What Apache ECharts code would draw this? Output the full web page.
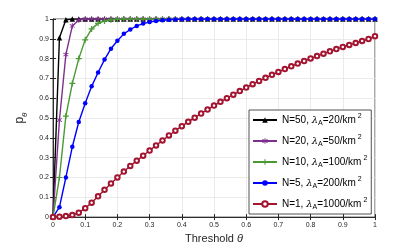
<!DOCTYPE html>
<html><head><meta charset="utf-8">
<script src="https://cdn.jsdelivr.net/npm/echarts@6/dist/echarts.min.js"></script>
<style>html,body{margin:0;padding:0;background:#fff}#c{width:415px;height:249px}</style>
</head><body><div id="c"></div>
<script>
const thresholds = [];
for (let i = 0; i <= 50; i++) thresholds.push(+(i * 0.02).toFixed(2));
const xTicks = [0,0.1,0.2,0.3,0.4,0.5,0.6,0.7,0.8,0.9,1];
const yTicks = [0,0.1,0.2,0.3,0.4,0.5,0.6,0.7,0.8,0.9,1];
const seriesNames = ['N=50', 'N=20', 'N=10', 'N=5', 'N=1'];
const densities = ['20', '50', '100', '200', '1000'];
const n50 = [0,0.905,0.996,1,1,1,1,1,1,1,1,1,1,1,1,1,1,1,1,1,1,1,1,1,1,1,1,1,1,1,1,1,1,1,1,1,1,1,1,1,1,1,1,1,1,1,1,1,1,1,1];
const n20 = [0,0.49,0.82,0.965,0.995,1,1,1,1,1,1,1,1,1,1,1,1,1,1,1,1,1,1,1,1,1,1,1,1,1,1,1,1,1,1,1,1,1,1,1,1,1,1,1,1,1,1,1,1,1,1];
const n10 = [0,0.2,0.51,0.675,0.8,0.895,0.95,0.978,0.99,0.996,0.999,1,1,1,1,1,1,1,1,1,1,1,1,1,1,1,1,1,1,1,1,1,1,1,1,1,1,1,1,1,1,1,1,1,1,1,1,1,1,1,1];
const n5 = [0,0.05,0.2,0.355,0.48,0.575,0.66,0.73,0.795,0.85,0.89,0.925,0.947,0.965,0.977,0.985,0.99,0.994,0.996,0.998,0.999,1,1,1,1,1,1,1,1,1,1,1,1,1,1,1,1,1,1,1,1,1,1,1,1,1,1,1,1,1,1];
const n1 = [0,0.002,0.005,0.01,0.022,0.045,0.073,0.105,0.138,0.17,0.2,0.23,0.258,0.285,0.31,0.336,0.362,0.387,0.412,0.436,0.459,0.481,0.502,0.523,0.543,0.563,0.582,0.6,0.618,0.636,0.654,0.671,0.687,0.703,0.718,0.733,0.747,0.761,0.775,0.788,0.801,0.813,0.825,0.837,0.848,0.859,0.869,0.879,0.889,0.899,0.913];

const colors = ['#000000', '#7e2f8e', '#4a9a32', '#0000ff', '#a2142f'];
const plus = 'path://M4,0L6,0L6,4L10,4L10,6L6,6L6,10L4,10L4,6L0,6L0,4L4,4Z';
const star = 'path://M4.3,0L5.7,0L5.7,3.3L8.6,1.6L9.3,2.8L6.4,4.5L6.4,5.5L9.3,7.2L8.6,8.4L5.7,6.7L5.7,10L4.3,10L4.3,6.7L1.4,8.4L0.7,7.2L3.6,5.5L3.6,4.5L0.7,2.8L1.4,1.6L4.3,3.3Z';
const symbols = ['triangle', star, plus, 'circle', 'emptyCircle'];
const symSizes = [5.5, 5.5, 6, 4.5, 4.5];
const allData = [n50, n20, n10, n5, n1];

const chart = echarts.init(document.getElementById('c'));
const font = 'Liberation Sans, Arial, sans-serif';
const series = allData.map((arr, k) => ({
  name: seriesNames[k],
  type: 'line',
  data: thresholds.map((t, i) => [t, arr[i]]),
  symbol: symbols[k],
  symbolSize: symSizes[k],
  showAllSymbol: true,
  itemStyle: { color: colors[k], borderColor: colors[k], borderWidth: k === 4 ? 1.5 : 0 },
  lineStyle: { color: colors[k], width: 1.4 },
  z: 2 + k,
  animation: false
}));

chart.setOption({
  animation: false,
  grid: { left: 53, right: 40, top: 19, bottom: 29, show: true, borderColor: '#262626', borderWidth: 0.8 },
  xAxis: [{
    type: 'value', min: 0, max: 1, interval: 0.1,
    name: 'Threshold {t|θ}', nameLocation: 'middle', nameGap: 15,
    nameTextStyle: { fontFamily: font, fontSize: 11, color: '#262626', rich: { t: { fontStyle: 'italic', fontSize: 11, fontFamily: font } } },
    axisLine: { show: true, lineStyle: { color: '#262626', width: 0.8 } },
    axisTick: { show: true, inside: true, length: 3, lineStyle: { color: '#262626' } },
    axisLabel: { fontFamily: font, fontSize: 7, color: '#262626', margin: 4, formatter: v => String(+v.toFixed(1)) },
    splitLine: { show: true, lineStyle: { color: '#e6e6e6', width: 0.8 } }
  }, {
    type: 'value', min: 0, max: 1, interval: 0.1, position: 'top',
    axisLine: { show: true, lineStyle: { color: '#262626', width: 0.8 } },
    axisTick: { show: true, inside: true, length: 3, lineStyle: { color: '#262626' } },
    axisLabel: { show: false }, splitLine: { show: false }
  }],
  yAxis: [{
    type: 'value', min: 0, max: 1, interval: 0.1,
    name: 'p{s|θ}', nameLocation: 'middle', nameGap: 24, nameRotate: 90,
    nameTextStyle: { fontFamily: font, fontSize: 12, color: '#262626', rich: { s: { fontSize: 8, fontStyle: 'italic', verticalAlign: 'bottom', lineHeight: 18, fontFamily: font } } },
    axisLine: { show: true, lineStyle: { color: '#262626', width: 0.8 } },
    axisTick: { show: true, inside: true, length: 3, lineStyle: { color: '#262626' } },
    axisLabel: { fontFamily: font, fontSize: 7, color: '#262626', margin: 4, formatter: v => String(+v.toFixed(1)) },
    splitLine: { show: true, lineStyle: { color: '#e6e6e6', width: 0.8 } }
  }, {
    type: 'value', min: 0, max: 1, interval: 0.1, position: 'right',
    axisLine: { show: true, lineStyle: { color: '#262626', width: 0.8 } },
    axisTick: { show: true, inside: true, length: 3, lineStyle: { color: '#262626' } },
    axisLabel: { show: false }, splitLine: { show: false }
  }],
  legend: {
    orient: 'vertical', left: 249, top: 110, height: 130,
    itemWidth: 24, itemHeight: 7, itemGap: 7,
    padding: [3, 4, 3, 3],
    backgroundColor: '#fff', borderColor: '#262626', borderWidth: 0.8,
    data: seriesNames,
    formatter: name => {
      const k = seriesNames.indexOf(name);
      return '{n|' + name + ', }{l|λ}{sub|A}{n|=' + densities[k] + '/km}{sup|2}';
    },
    textStyle: {
      fontFamily: font, fontSize: 10, color: '#000', lineHeight: 14,
      rich: {
        n: { fontFamily: font, fontSize: 10, lineHeight: 14, verticalAlign: 'middle' },
        l: { fontFamily: 'DejaVu Serif', fontStyle: 'italic', fontSize: 10, lineHeight: 14, verticalAlign: 'middle' },
        sub: { fontSize: 7, lineHeight: 14, verticalAlign: 'bottom', fontFamily: font },
        sup: { fontSize: 7, lineHeight: 14, verticalAlign: 'top', padding: [0, 0, 0, 2], fontFamily: font }
      }
    }
  },
  series: series
});
</script></body></html>
